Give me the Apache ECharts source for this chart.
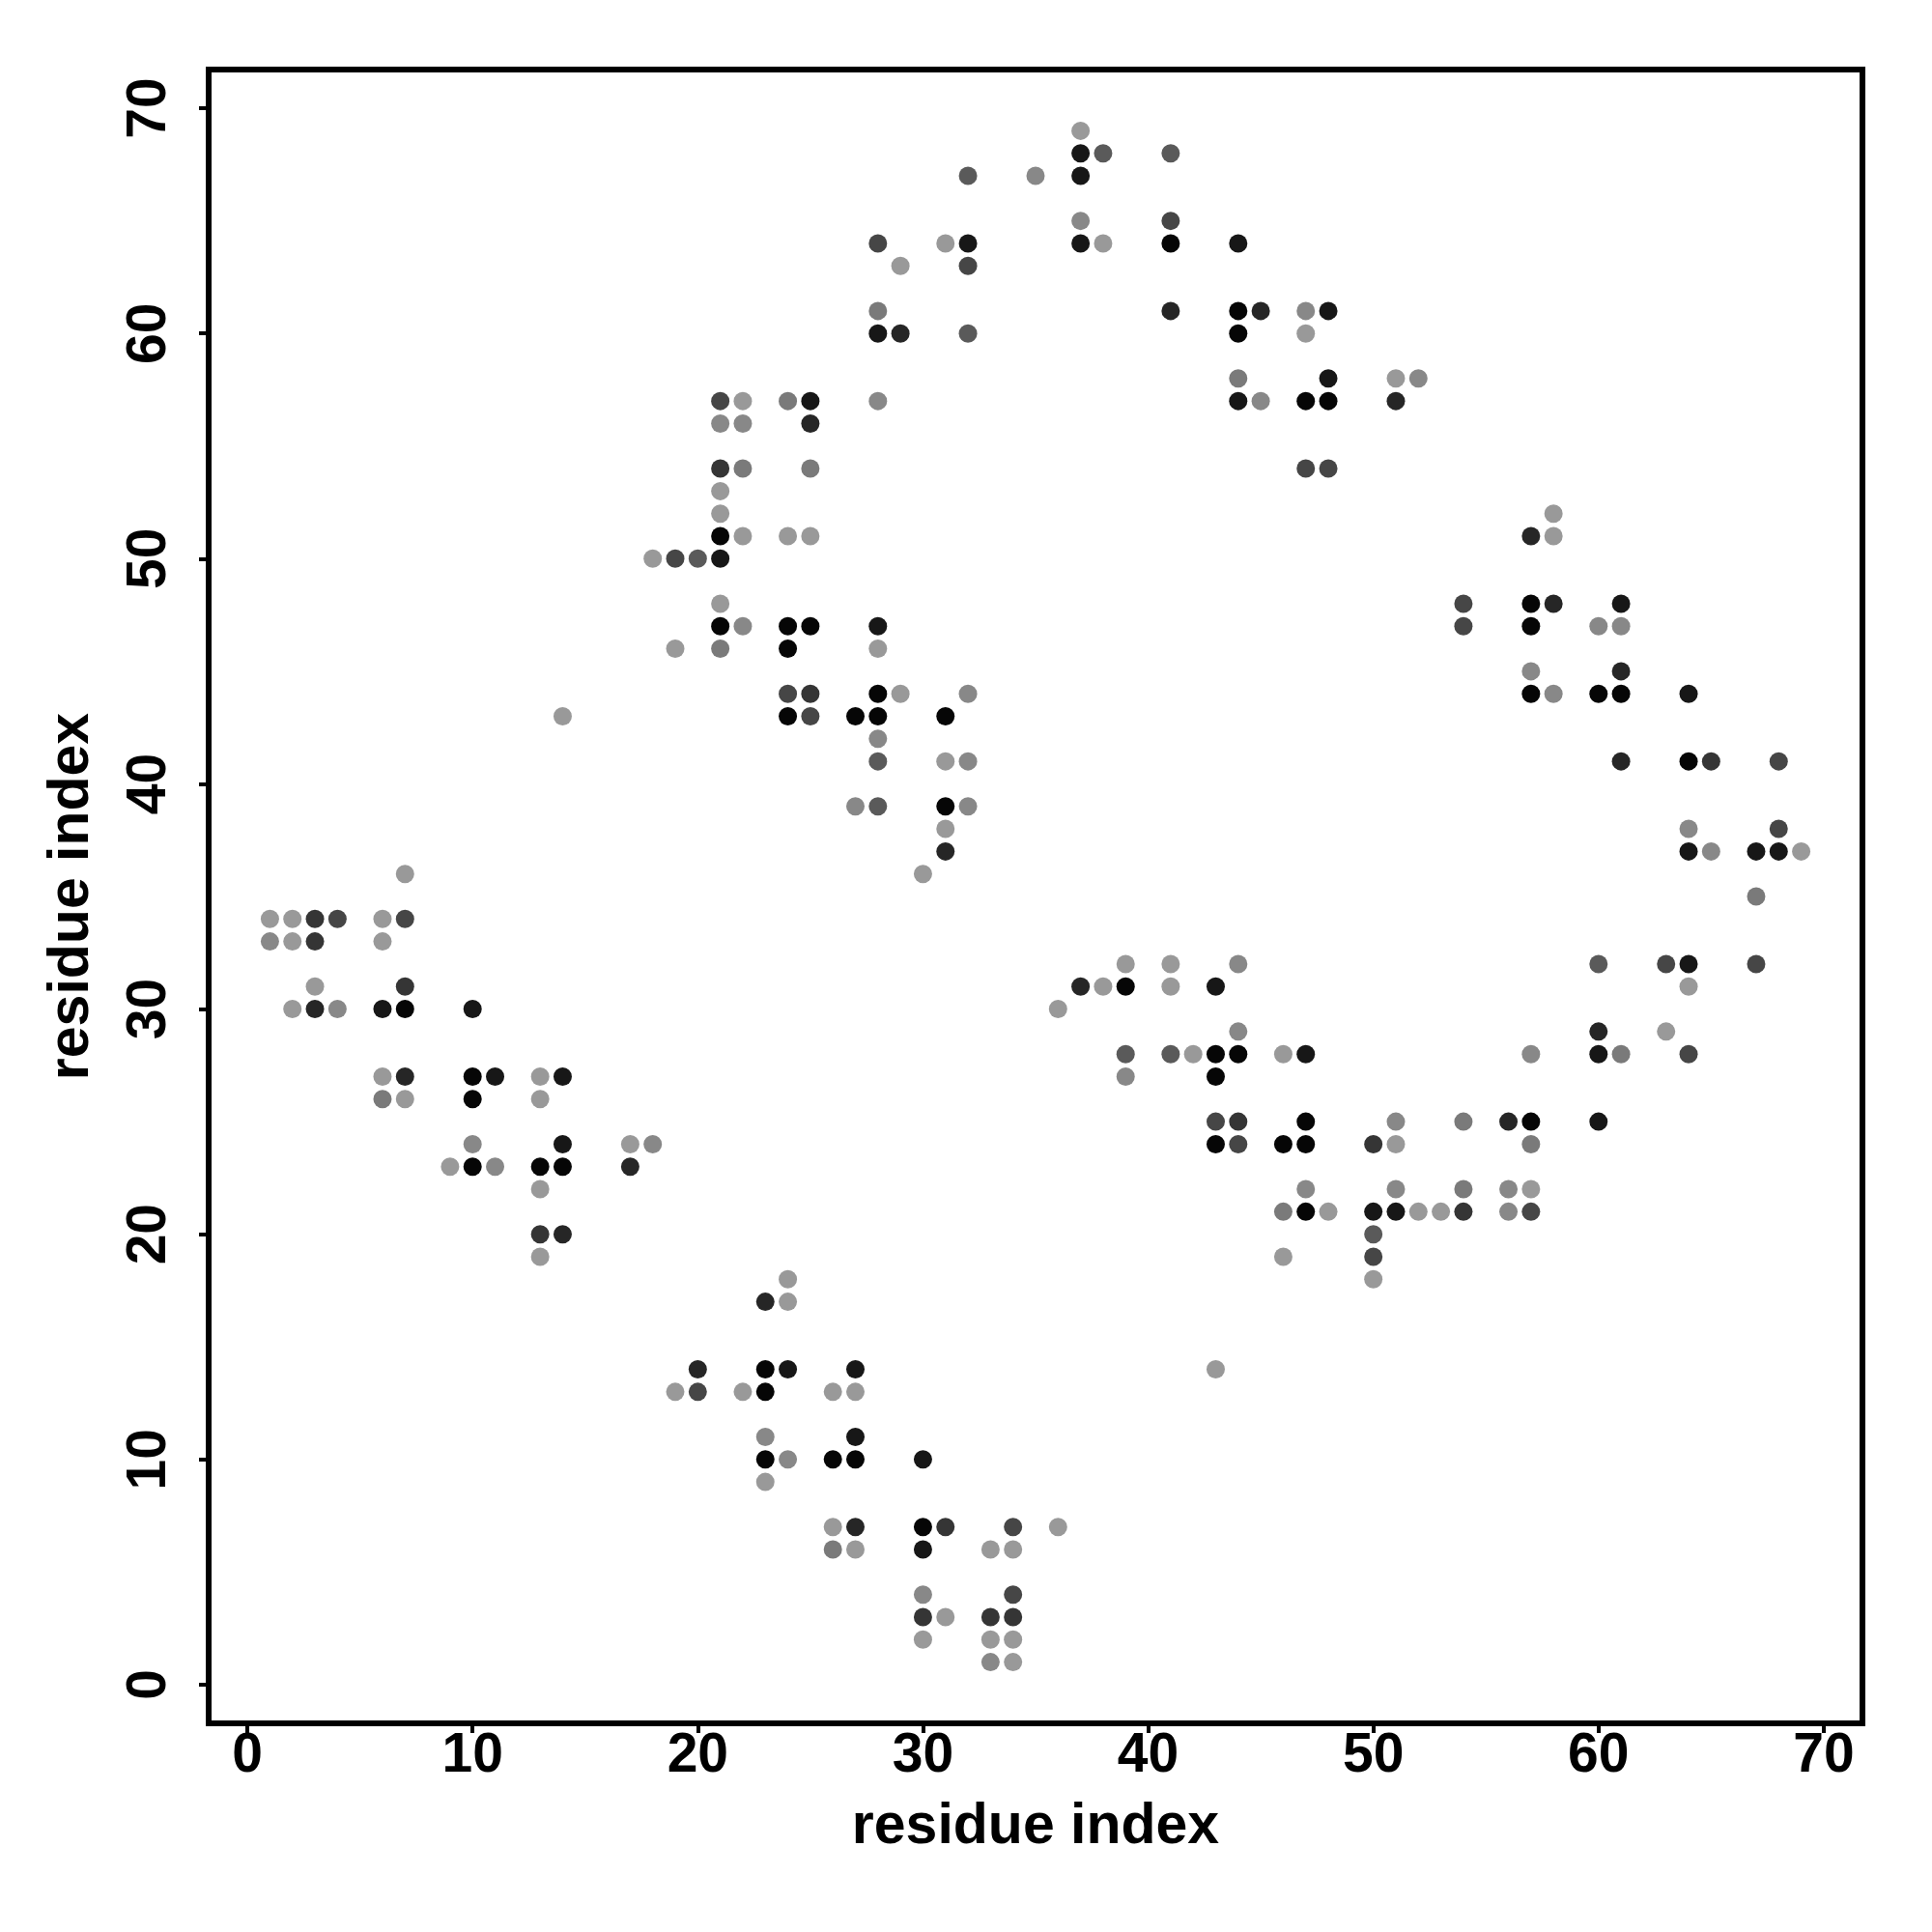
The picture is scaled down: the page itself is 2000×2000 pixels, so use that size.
<!DOCTYPE html>
<html>
<head>
<meta charset="utf-8">
<script src="https://cdn.jsdelivr.net/npm/echarts@6/dist/echarts.min.js"></script>
<style>html,body{margin:0;padding:0;background:#fff}#c{width:2000px;height:2000px}</style>
</head>
<body>
<div id="c"></div>
<script>
// Tick labels
const tickValues = [0, 10, 20, 30, 40, 50, 60, 70];
const axisTitle = 'residue index';

// Contact points grouped by gray shade (darkest first): [residue i, residue j]
const shadeBlack = [[7,30],[10,27],[10,26],[10,23],[13,23],[14,23],
  [23,14],[23,13],[23,10],[26,10],[27,10],[30,7],
  [21,51],[21,47],[24,47],[25,47],[24,46],[28,44],[24,43],[27,43],[28,43],[31,43],[31,39],
  [41,64],[44,61],[44,60],[47,57],[48,57],
  [57,48],[57,47],[57,44],[60,44],[61,44],[64,41],
  [39,31],[43,28],[44,28],[43,27],[47,25],[43,24],[46,24],[47,24],[47,21],[57,25]];
const shadeDark1 = [[6,30],[10,30],[11,27],[14,27],[14,24],
  [24,14],[27,14],[27,11],[30,10],[30,6],
  [25,57],[21,50],[28,47],
  [37,68],[37,67],[32,64],[37,64],[44,64],[48,61],[28,60],[48,58],[44,57],
  [61,48],[64,44],[64,37],[67,37],[68,37],[64,32],[60,28],
  [43,31],[47,28],[50,21],[51,21],[60,25]];
const shadeDark2 = [[3,30],[7,27],[17,23],[14,20],
  [23,17],[20,14],[27,7],
  [25,56],[31,37],
  [41,61],[45,61],[29,60],[51,57],
  [57,51],[58,48],[61,45],[61,41],[60,29],
  [37,31],[56,25]];
const shadeDark3 = [[3,34],[3,33],[7,31],[13,20],
  [31,7],[30,3],[33,3],[34,3],
  [21,54],[25,44],
  [65,41],
  [44,25],[50,24],[54,21]];
const shadeDark4 = [[4,34],[7,34],
  [20,13],[34,7],[34,4],
  [21,57],[19,50],[24,44],[25,43],
  [41,65],[28,64],[32,63],[47,54],[48,54],
  [54,48],[54,47],[68,41],[68,38],[63,32],[67,32],[64,28],
  [43,25],[44,24],[50,19],[57,21]];
const shadeMid1 = [[20,50],[28,41],[28,39],
  [38,68],[41,68],[32,67],[32,60],
  [60,32],
  [39,28],[41,28],[50,20]];
const shadeMid2 = [[6,26],[26,6],
  [24,57],[22,54],[25,54],[21,46],
  [28,61],[44,58],
  [67,35],[61,28],
  [46,21],[54,25],[57,24],[54,22]];
const shadeLight1 = [[1,33],[4,30],[10,24],[18,24],[11,23],
  [23,11],[24,10],[30,4],[33,1],
  [28,57],[21,56],[22,56],[22,47],[32,44],[28,42],[32,41],[27,39],[32,39],
  [35,67],[37,65],[47,61],[52,58],[45,57],
  [60,47],[61,47],[57,45],[58,44],[64,38],[65,37],[57,28],
  [44,32],[44,29],[39,27],[51,25],[47,22],[51,22],[56,22],[56,21]];
const shadeLight2 = [[7,36],[1,34],[2,34],[6,34],[2,33],[6,33],[3,31],[2,30],[6,27],[13,27],[7,26],[13,26],[17,24],[9,23],[13,22],[13,19],[14,43],
  [24,18],[24,17],[19,13],[22,13],[26,13],[27,13],[23,9],[26,7],[36,7],[27,6],[33,6],[34,6],[31,3],[30,2],[33,2],[34,2],[34,1],
  [22,57],[21,53],[21,52],[22,51],[24,51],[25,51],[18,50],[21,48],[19,46],[28,46],[29,44],[31,41],[31,38],[30,36],
  [37,69],[31,64],[38,64],[29,63],[47,60],[51,58],
  [58,52],[58,51],[69,37],[64,31],[63,29],
  [39,32],[41,32],[38,31],[41,31],[36,30],[42,28],[46,28],[51,24],[48,21],[52,21],[53,21],[46,19],[50,18],[43,14],[57,22]];

const groups = [shadeBlack, shadeDark1, shadeDark2, shadeDark3, shadeDark4, shadeMid1, shadeMid2, shadeLight1, shadeLight2];
const groupColors = ['#060606', '#171717', '#262626', '#353535', '#464646', '#5a5a5a', '#7a7a7a', '#888888', '#999999'];

const font = 'Liberation Sans, Arial, Helvetica, sans-serif';
const chart = echarts.init(document.getElementById('c'), null, {renderer: 'canvas'});

function axis(isX) {
  return {
    type: 'value',
    min: -1.72,
    max: 71.72,
    name: axisTitle,
    nameLocation: 'middle',
    nameGap: isX ? 78 : 112,
    nameTextStyle: {fontFamily: font, fontWeight: 'bold', fontSize: 59, color: '#000'},
    axisLine: {show: false, onZero: false},
    splitLine: {show: false},
    axisTick: {show: true, inside: false, length: 10, customValues: tickValues,
      lineStyle: {color: '#000', width: 4}},
    axisLabel: {show: true, customValues: tickValues, rotate: isX ? 0 : 90,
      margin: isX ? 6 : 32,
      fontFamily: font, fontWeight: 'bold', fontSize: 57, color: '#000'}
  };
}

chart.setOption({
  animation: false,
  backgroundColor: '#fff',
  grid: {left: 216, top: 72, width: 1712, height: 1712, show: true,
    borderColor: '#000', borderWidth: 6, backgroundColor: 'transparent',
    containLabel: false, outerBoundsMode: 'none'},
  xAxis: axis(true),
  yAxis: axis(false),
  series: groups.map((g, i) => ({
    type: 'scatter',
    data: g,
    symbol: 'circle',
    symbolSize: 19,
    itemStyle: {color: groupColors[i], opacity: 1},
    emphasis: {disabled: true},
    silent: true
  }))
});
</script>
</body>
</html>
